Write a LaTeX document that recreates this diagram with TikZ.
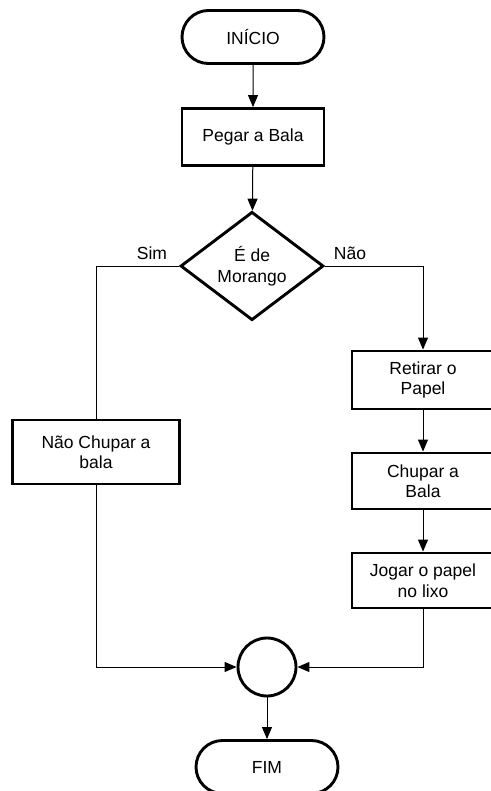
\documentclass[tikz,border=0pt]{standalone}
\usepackage{fontspec}
\setmainfont{Liberation Sans}
\usetikzlibrary{shapes.geometric,shapes.misc,arrows.meta}
\begin{document}
\begin{tikzpicture}[x=1pt,y=-1pt,
  every node/.style={font=\fontsize{17.5}{20.5}\selectfont, align=center},
  term/.style={draw, line width=2.9pt, rounded rectangle, minimum width=142pt, minimum height=53pt, inner sep=0pt},
  procbox/.style={draw, line width=2.9pt, rectangle, inner sep=0pt},
  decis/.style={draw, line width=2.9pt, diamond, minimum width=143pt, minimum height=106pt, inner sep=0pt},
  joinc/.style={draw, line width=2.9pt, circle, minimum size=58pt, inner sep=0pt},
  conn/.style={line width=1pt},
  arr/.style={conn, -{Triangle[length=12pt, width=10pt]}},
  lbl/.style={inner sep=0pt}]
\useasboundingbox (0,0) rectangle (490,791);
\node[term] (inicio) at (253,37) {INÍCIO};
\node[procbox, minimum width=142pt, minimum height=57pt] (pegar) at (253,137) {Pegar a Bala};
\node[decis] (diam) at (252,266) {É de\\Morango};
\node[procbox, minimum width=167pt, minimum height=64pt] (nao) at (96,452) {Não Chupar a\\bala};
\node[procbox, minimum width=142pt, minimum height=58pt] (retirar) at (423,380) {Retirar o\\Papel};
\node[procbox, minimum width=142pt, minimum height=56pt] (chupar) at (423,481) {Chupar a\\Bala};
\node[procbox, minimum width=142pt, minimum height=55pt] (jogar) at (423,580.5) {Jogar o papel\\no lixo};
\node[joinc] (circ) at (267,667) {};
\node[term] (fim) at (267,767) {FIM};
\node[lbl] (sim) at (152,253) {Sim};
\node[lbl] (naolbl) at (350,253) {Não};
\draw[arr] (inicio) -- (pegar);
\draw[arr] (pegar) -- (diam);
\draw[conn] (diam.west) -| (nao.north);
\draw[arr] (diam.east) -| (retirar.north);
\draw[arr] (retirar) -- (chupar);
\draw[arr] (chupar) -- (jogar);
\draw[arr] (nao.south) |- (circ.west);
\draw[arr] (jogar.south) |- (circ.east);
\draw[arr] (circ) -- (fim);
\end{tikzpicture}
\end{document}
